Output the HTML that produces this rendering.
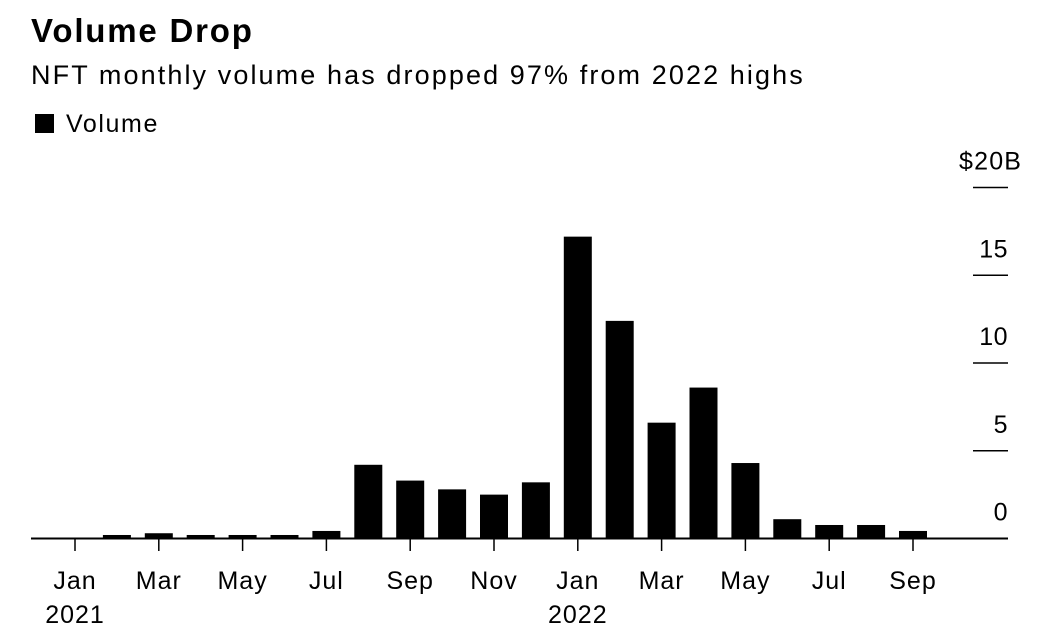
<!DOCTYPE html>
<html><head><meta charset="utf-8"><style>
body{margin:0;background:#fff;font-family:"Liberation Sans",sans-serif;color:#000}
#wrap{position:relative;width:1056px;height:634px;overflow:hidden}
.t{position:absolute;white-space:nowrap}
</style></head><body>
<div id="wrap">
<div class="t" style="left:31px;top:12px;font-size:33px;font-weight:bold;letter-spacing:1.8px">Volume Drop</div>
<div class="t" style="left:31px;top:60px;font-size:27px;letter-spacing:2.1px">NFT monthly volume has dropped 97% from 2022 highs</div>
<div class="t" style="left:35px;top:110px;font-size:25px;letter-spacing:1.6px"><span style="display:inline-block;width:19px;height:19px;background:#000;margin-right:12px;vertical-align:-1px"></span>Volume</div>
<svg id="c" width="1056" height="634" style="position:absolute;left:0;top:0"></svg>
</div>
<script>
const months=["Jan","Feb","Mar","Apr","May","Jun","Jul","Aug","Sep","Oct","Nov","Dec","Jan","Feb","Mar","Apr","May","Jun","Jul","Aug","Sep"];
const volume=[0.05,0.2,0.3,0.2,0.2,0.2,0.43,4.2,3.3,2.8,2.5,3.2,17.2,12.4,6.6,8.6,4.3,1.1,0.77,0.77,0.43];
const yTicks=[0,5,10,15,20];
const yLabels=["0","5","10","15","$20B"];
const xLabelIdx=[0,2,4,6,8,10,12,14,16,18,20];
const years={0:"2021",12:"2022"};
const svg=document.getElementById('c');const NS="http://www.w3.org/2000/svg";
const x=i=>75+i*41.9;
const y=v=>538.5-v*17.55;
const F='Liberation Sans, sans-serif';
function mk(t,a){const e=document.createElementNS(NS,t);for(const k in a)e.setAttribute(k,a[k]);svg.appendChild(e);return e;}
volume.forEach((v,i)=>{const r=mk('rect',{x:x(i)-14,y:y(v),width:28,height:Math.max(y(0)-y(v),0.8),fill:'#000'});

});
yTicks.forEach((t,i)=>{
if(t>0){const l=mk('line',{x1:973,x2:1008,y1:y(t),y2:y(t),stroke:'#000','stroke-width':1.5});
}
const last=i===yTicks.length-1;
const tx=mk('text',{x:last?959:1008,y:y(t)-18,'text-anchor':last?'start':'end','font-size':25,'letter-spacing':last?1.2:0.5,'font-family':F});
tx.textContent=yLabels[i];});
const base=mk('line',{x1:31,x2:1008,y1:y(0),y2:y(0),stroke:'#000','stroke-width':2});

xLabelIdx.forEach(i=>{
const l=mk('line',{x1:x(i),x2:x(i),y1:y(0),y2:551,stroke:'#000','stroke-width':1.5});

const tx=mk('text',{x:x(i),y:589,'text-anchor':'middle','font-size':25,'letter-spacing':1,'font-family':F});
tx.textContent=months[i];
if(years[i]){const yt=mk('text',{x:x(i),y:623,'text-anchor':'middle','font-size':25,'letter-spacing':1,'font-family':F});
yt.textContent=years[i];}});
</script>
</body></html>
